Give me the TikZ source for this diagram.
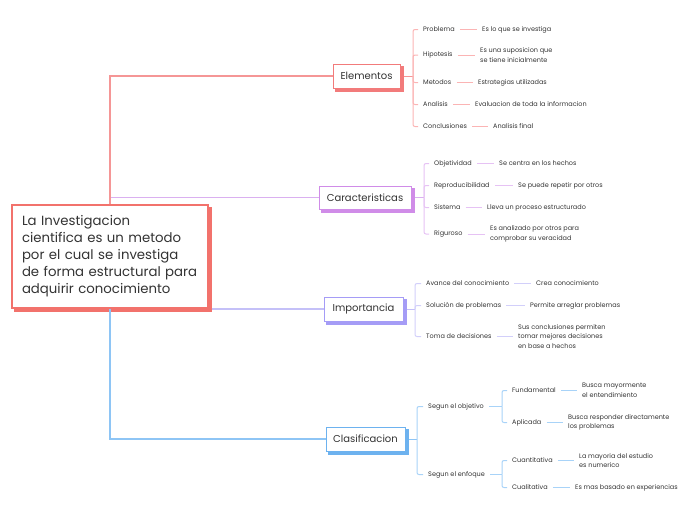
\documentclass[tikz,border=0pt]{standalone}
\usepackage{fontspec}
\setmainfont{Poppins}
\usetikzlibrary{backgrounds}
\definecolor{txt}{HTML}{333333}
\definecolor{mainB}{HTML}{F2726C}
\definecolor{redB}{HTML}{F27B7B}
\definecolor{redT}{HTML}{F59696}
\definecolor{redL}{HTML}{FBB4B4}
\definecolor{purB}{HTML}{D08CE8}
\definecolor{purT}{HTML}{DAB0F0}
\definecolor{purL}{HTML}{E6C2F4}
\definecolor{lavB}{HTML}{A59CF6}
\definecolor{lavT}{HTML}{C4C0F8}
\definecolor{lavL}{HTML}{D2CFFA}
\definecolor{bluB}{HTML}{6DB2EF}
\definecolor{bluT}{HTML}{8EC5F5}
\definecolor{bluL}{HTML}{A8D3F8}
\begin{document}
\begin{tikzpicture}[x=1pt,y=1pt,
  cat/.style={draw, fill=white, line width=1pt, minimum height=24pt, inner sep=0pt,
    font=\fontsize{10}{12}\selectfont, text=txt},
  lbl/.style={anchor=west, inner sep=0pt, font=\fontsize{6.5}{9.5}\selectfont, text=txt, align=left},
  br/.style={line width=1pt, rounded corners=2pt, shorten >=5pt},
  lk/.style={line width=1pt, shorten <=5pt, shorten >=5pt},
  trunk/.style={line width=1.3pt},
  shad/.style={fill=white, line width=1pt}]
\useasboundingbox (0,0) rectangle (697,-520);

% main node
\node[draw=mainB, fill=white, line width=1.4pt, minimum width=196pt, minimum height=103pt,
  text width=176pt, inner sep=0pt, align=left, text=txt,
  font=\fontsize{13.3}{17}\selectfont] (main) at (110,-256.5)
  {La Investigacion\\cientifica es un metodo\\por el cual se investiga\\de forma estructural para\\adquirir conocimiento};

% category nodes
\node[cat, draw=redB, minimum width=67pt] (el) at (366.5,-76) {Elementos};
\node[cat, draw=purB, minimum width=92pt, minimum height=23pt] (ca) at (365,-197.5) {Caracteristicas};
\node[cat, draw=lavB, minimum width=79pt] (im) at (363.5,-309) {Importancia};
\node[cat, draw=bluB, minimum width=79pt] (cl) at (365.5,-439) {Clasificacion};

% shadows
\begin{scope}[on background layer]
\draw[shad, mainB, line width=1.4pt] ([shift={(3,-3)}]main.south west) rectangle ([shift={(3,-3)}]main.north east);
\draw[shad, redB] ([shift={(3,-3)}]el.south west) rectangle ([shift={(3,-3)}]el.north east);
\draw[shad, purB] ([shift={(3,-3)}]ca.south west) rectangle ([shift={(3,-3)}]ca.north east);
\draw[shad, lavB] ([shift={(3,-3)}]im.south west) rectangle ([shift={(3,-3)}]im.north east);
\draw[shad, bluB] ([shift={(3,-3)}]cl.south west) rectangle ([shift={(3,-3)}]cl.north east);
\end{scope}

% trunk
\draw[trunk, purT] (main.north) |- (ca.west);
\draw[trunk, redT] (main.north) |- (el.west);
\draw[trunk, lavT] ([xshift=3pt]im.west -| main.east) -- (im.west);
\draw[trunk, bluT] (main.south) |- (cl.west);

% Elementos
\node[lbl] (e1) at (423,-29.5) {Problema};
\node[lbl] (e1d) at (482,-29.5) {Es lo que se investiga};
\node[lbl] (e2) at (423,-55) {Hipotesis};
\node[lbl] (e2d) at (480,-55) {Es una suposicion que\\se tiene inicialmente};
\node[lbl] (e3) at (423,-82.5) {Metodos};
\node[lbl] (e3d) at (478,-82.5) {Estrategias utilizadas};
\node[lbl] (e4) at (423,-104.5) {Analisis};
\node[lbl] (e4d) at (475,-104.5) {Evaluacion de toda la informacion};
\node[lbl] (e5) at (423,-126.5) {Conclusiones};
\node[lbl] (e5d) at (493,-126.5) {Analisis final};
\coordinate (jel) at (413,-76);
\draw[line width=1pt, redT] ([xshift=3pt]el.east) -- (jel);
\foreach \n in {e1,e2,e3,e4,e5}{
  \draw[br, redL] (jel) |- (\n.west);
  \draw[lk, redL] (\n.east) -- (\n d.west);
}

% Caracteristicas
\node[lbl] (c1) at (434,-163.5) {Objetividad};
\node[lbl] (c1d) at (499,-163.5) {Se centra en los hechos};
\node[lbl] (c2) at (434,-185.5) {Reproducibilidad};
\node[lbl] (c2d) at (518,-185.5) {Se puede repetir por otros};
\node[lbl] (c3) at (434,-207.5) {Sistema};
\node[lbl] (c3d) at (487,-207.5) {Lleva un proceso estructurado};
\node[lbl] (c4) at (434,-234) {Riguroso};
\node[lbl] (c4d) at (490,-234) {Es analizado por otros para\\comprobar su veracidad};
\coordinate (jca) at (424,-197.5);
\draw[line width=1pt, purT] ([xshift=3pt]ca.east) -- (jca);
\foreach \n in {c1,c2,c3,c4}{
  \draw[br, purL] (jca) |- (\n.west);
  \draw[lk, purL] (\n.east) -- (\n d.west);
}

% Importancia
\node[lbl] (i1) at (426,-283.5) {Avance del conocimiento};
\node[lbl] (i1d) at (536,-283.5) {Crea conocimiento};
\node[lbl] (i2) at (426,-305.5) {Solución de problemas};
\node[lbl] (i2d) at (530,-305.5) {Permite arreglar problemas};
\node[lbl] (i3) at (426,-336.5) {Toma de decisiones};
\node[lbl] (i3d) at (518,-336.5) {Sus conclusiones permiten\\tomar mejores decisiones\\en base a hechos};
\coordinate (jim) at (415,-309);
\draw[line width=1pt, lavT] ([xshift=3pt]im.east) -- (jim);
\foreach \n in {i1,i2,i3}{
  \draw[br, lavL] (jim) |- (\n.west);
  \draw[lk, lavL] (\n.east) -- (\n d.west);
}

% Clasificacion
\node[lbl] (k1) at (428,-406.5) {Segun el objetivo};
\node[lbl] (k2) at (428,-474.5) {Segun el enfoque};
\node[lbl] (k11) at (512,-390.5) {Fundamental};
\node[lbl] (k11d) at (582,-390.5) {Busca mayormente\\el entendimiento};
\node[lbl] (k12) at (512,-422.5) {Aplicada};
\node[lbl] (k12d) at (568,-422.5) {Busca responder directamente\\los problemas};
\node[lbl] (k21) at (512,-460.5) {Cuantitativa};
\node[lbl] (k21d) at (579,-460.5) {La mayoria del estudio\\es numerico};
\node[lbl] (k22) at (512,-487.5) {Cualitativa};
\node[lbl] (k22d) at (575,-487.5) {Es mas basado en experiencias};
\coordinate (jcl) at (417,-439);
\coordinate (jk1) at (502,-406.5);
\coordinate (jk2) at (502,-474.5);
\draw[line width=1pt, bluT] ([xshift=3pt]cl.east) -- (jcl);
\foreach \n in {k1,k2}{
  \draw[br, bluL] (jcl) |- (\n.west);
}
\draw[lk, bluL, shorten >=0pt] (k1.east) -- (jk1);
\draw[lk, bluL, shorten >=0pt] (k2.east) -- (jk2);
\foreach \n in {k11,k12}{
  \draw[br, bluL] (jk1) |- (\n.west);
  \draw[lk, bluL] (\n.east) -- (\n d.west);
}
\foreach \n in {k21,k22}{
  \draw[br, bluL] (jk2) |- (\n.west);
  \draw[lk, bluL] (\n.east) -- (\n d.west);
}
\end{tikzpicture}
\end{document}
